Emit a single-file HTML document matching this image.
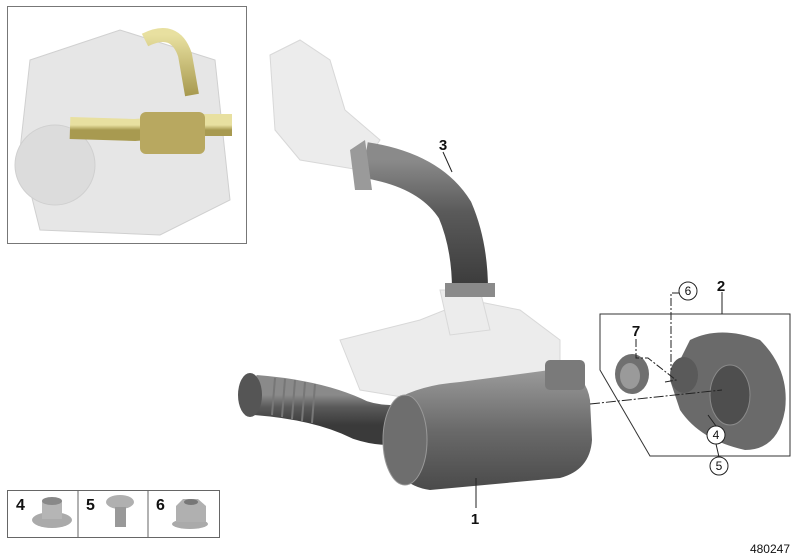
<!DOCTYPE html>
<html><head><style>
html,body{margin:0;padding:0;background:#fff;}
svg{display:block;}
text{font-family:"Liberation Sans",sans-serif;}
</style></head><body>
<svg width="800" height="560" viewBox="0 0 800 560" xmlns="http://www.w3.org/2000/svg">
<defs>
<linearGradient id="dk" x1="0" y1="0" x2="0" y2="1"><stop offset="0" stop-color="#8a8a8a"/><stop offset="0.4" stop-color="#5a5a5a"/><stop offset="1" stop-color="#3a3a3a"/></linearGradient>
<linearGradient id="cat" x1="0" y1="0" x2="0" y2="1"><stop offset="0" stop-color="#9a9a9a"/><stop offset="0.5" stop-color="#6a6a6a"/><stop offset="1" stop-color="#4a4a4a"/></linearGradient>
<linearGradient id="gold" x1="0" y1="0" x2="0" y2="1"><stop offset="0" stop-color="#e8e0a0"/><stop offset="1" stop-color="#a89a50"/></linearGradient>
</defs>
<rect x="7.5" y="6.5" width="239" height="237" fill="#fff" stroke="#777"/>
<g fill="#e6e6e6" stroke="#d0d0d0">
<path d="M30 60 L120 30 L215 60 L230 200 L160 235 L40 230 L20 150 Z"/>
<circle cx="55" cy="165" r="40" fill="#dcdcdc"/>
</g>
<path d="M145 40 Q175 25 185 55 L192 95" stroke="url(#gold)" stroke-width="14" fill="none"/>
<path d="M70 128 L135 130 L200 125 L232 125" stroke="url(#gold)" stroke-width="22" fill="none"/>
<rect x="140" y="112" width="65" height="42" rx="6" fill="#b8a860"/>
<g fill="#ececec" stroke="#d8d8d8">
<path d="M270 55 L300 40 L330 60 L345 110 L380 140 L360 170 L300 160 L275 130 Z"/>
<path d="M340 340 L420 320 L470 300 L520 310 L560 340 L560 380 L500 390 L420 400 L360 390 Z"/>
<path d="M440 290 L480 290 L490 330 L450 335 Z"/>
</g>
<path d="M365 160 Q430 170 455 210 Q470 245 470 290" stroke="url(#dk)" stroke-width="36" fill="none" stroke-linecap="butt"/>
<path d="M350 150 L365 140 L372 190 L355 190 Z" fill="#9a9a9a"/>
<rect x="445" y="283" width="50" height="14" fill="#8a8a8a"/>
<path d="M255 395 Q320 400 360 420 Q390 430 420 420" stroke="url(#dk)" stroke-width="40" fill="none"/>
<ellipse cx="250" cy="395" rx="12" ry="22" fill="#555"/>
<g stroke="#777" stroke-width="2"><line x1="275" y1="378" x2="272" y2="415"/><line x1="285" y1="379" x2="282" y2="417"/><line x1="295" y1="380" x2="292" y2="419"/><line x1="305" y1="382" x2="302" y2="421"/><line x1="315" y1="384" x2="312" y2="423"/></g>
<path d="M395 400 Q420 385 460 382 L550 370 Q585 368 590 400 L592 440 Q590 470 560 478 L430 490 Q395 485 392 450 Z" fill="url(#cat)"/>
<ellipse cx="405" cy="440" rx="22" ry="45" fill="#6e6e6e" stroke="#999"/>
<rect x="545" y="360" width="40" height="30" rx="5" fill="#7a7a7a"/>
<path d="M690 340 Q720 325 760 340 Q790 370 785 410 Q778 450 745 450 Q700 440 680 410 L670 380 Z" fill="#6a6a6a"/>
<ellipse cx="730" cy="395" rx="20" ry="30" fill="#4e4e4e" stroke="#8a8a8a"/>
<ellipse cx="684" cy="375" rx="14" ry="18" fill="#5a5a5a"/>
<ellipse cx="632" cy="374" rx="17" ry="20" fill="#707070"/>
<ellipse cx="630" cy="376" rx="10" ry="13" fill="#9a9a9a"/>
<path d="M600 314 L790 314 L790 456 L650 456 L600 370 Z" fill="none" stroke="#333" stroke-width="1"/>
<g stroke="#222" stroke-width="1" fill="none">
<line x1="443" y1="152" x2="452" y2="172"/>
<line x1="722" y1="292" x2="722" y2="314"/>
<path d="M680 293 L671 293 L671 370" stroke-dasharray="8 2 2 2"/>
<path d="M636 339 L636 358 L648 358 L676 380 L665 382" stroke-dasharray="8 2 2 2"/>
<line x1="590" y1="404" x2="722" y2="390" stroke-dasharray="10 2 2 2"/>
<line x1="708" y1="415" x2="716" y2="426"/>
<line x1="716" y1="444" x2="719" y2="457"/>
<line x1="476" y1="478" x2="476" y2="508"/>
</g>
<g fill="#fff" stroke="#222"><circle cx="688" cy="291" r="9"/><circle cx="716" cy="435" r="9"/><circle cx="719" cy="466" r="9"/></g>
<g font-size="15" font-weight="bold" fill="#111" text-anchor="middle">
<text x="443" y="150">3</text>
<text x="721" y="291">2</text>
<text x="636" y="336">7</text>
<text x="475" y="524">1</text>
</g>
<g font-size="12" fill="#111" text-anchor="middle">
<text x="688" y="295">6</text><text x="716" y="439">4</text><text x="719" y="470">5</text>
</g>
<rect x="7.5" y="490.5" width="212" height="47" fill="#fff" stroke="#666"/>
<line x1="78" y1="490" x2="78" y2="538" stroke="#666"/>
<line x1="148" y1="490" x2="148" y2="538" stroke="#666"/>
<g font-size="16" font-weight="bold" fill="#111"><text x="16" y="510">4</text><text x="86" y="510">5</text><text x="156" y="510">6</text></g>
<ellipse cx="52" cy="520" rx="20" ry="8" fill="#aaa"/><rect x="42" y="501" width="20" height="18" fill="#b5b5b5"/><ellipse cx="52" cy="501" rx="10" ry="4" fill="#888"/>
<ellipse cx="120" cy="502" rx="14" ry="7" fill="#b0b0b0"/><rect x="115" y="507" width="11" height="20" fill="#999"/>
<ellipse cx="190" cy="524" rx="18" ry="5" fill="#aaa"/><path d="M176 506 L183 499 L198 499 L206 506 L206 522 L176 522 Z" fill="#b0b0b0"/><ellipse cx="191" cy="502" rx="7" ry="3" fill="#777"/>
<text x="790" y="553" font-size="12" fill="#111" text-anchor="end">480247</text>
</svg>
</body></html>
